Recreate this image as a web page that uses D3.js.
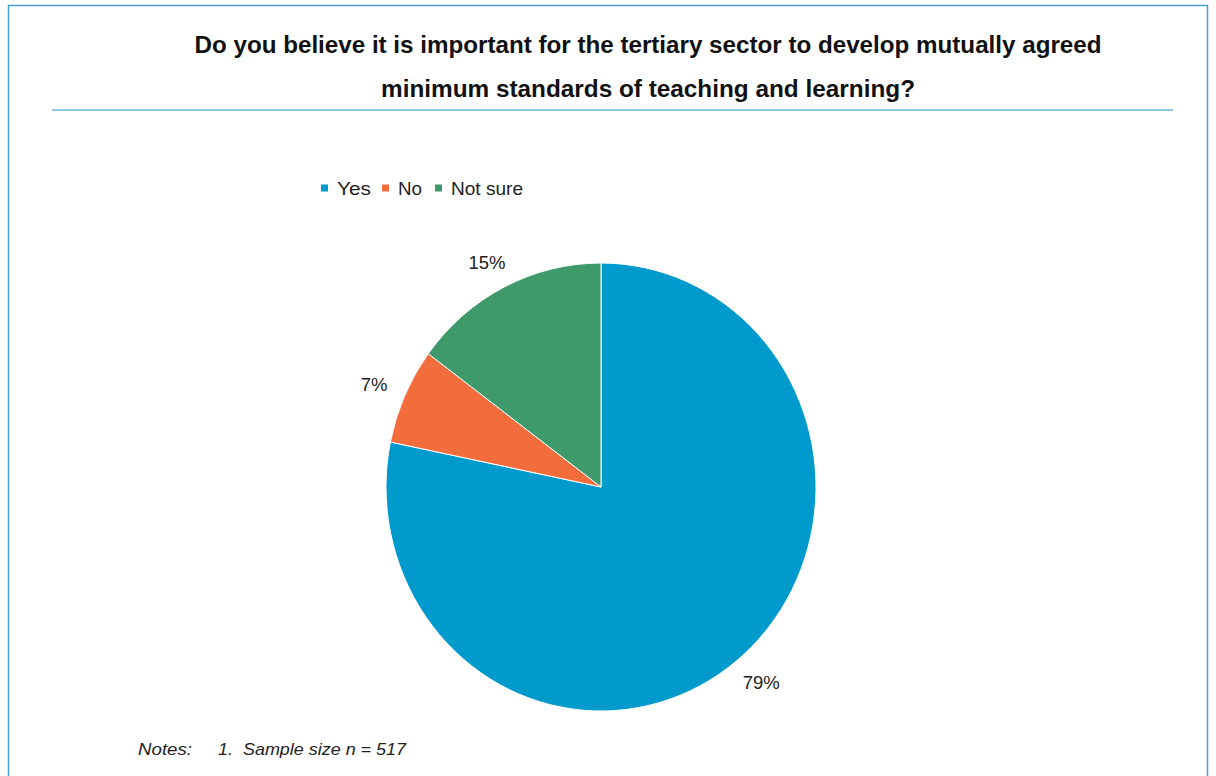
<!DOCTYPE html>
<html><head><meta charset="utf-8">
<script src="https://cdn.jsdelivr.net/npm/d3@7"></script>
<style>body{margin:0;background:#fff;font-family:"Liberation Sans",Arial,sans-serif}</style>
</head><body><svg id="c" width="1216" height="776"></svg>
<script>
const categories = ["Yes", "No", "Not sure"];
const values = [79, 7, 15];
const labels = ["79%", "7%", "15%"];
const colors = ["#009BCC", "#F26C3C", "#3E9A6A"];
const titleLines = ["Do you believe it is important for the tertiary sector to develop mutually agreed",
                    "minimum standards of teaching and learning?"];

const svg = d3.select("#c");
svg.append("rect").attr("x", 8.5).attr("y", 5.5).attr("width", 1199).attr("height", 800)
  .attr("fill", "none").attr("stroke", "#4A9FD5").attr("stroke-width", 1.5);
svg.append("line").attr("x1", 52).attr("x2", 1173).attr("y1", 110).attr("y2", 110)
  .attr("stroke", "#6BB4E0").attr("stroke-width", 1.5);

svg.selectAll("text.title").data(titleLines).join("text").attr("class", "title")
  .attr("x", 648).attr("y", (d, i) => 53 + i * 44).attr("text-anchor", "middle")
  .attr("font-size", 23.5).attr("font-weight", "bold").attr("fill", "#111")
  .attr("textLength", (d, i) => i === 0 ? 907 : 534).attr("lengthAdjust", "spacingAndGlyphs")
  .text(d => d);

// legend
const legendX = [321, 382, 435];
const legendW = [34, 24, 72];
const lg = svg.selectAll("g.lg").data(categories).join("g").attr("class", "lg")
  .attr("transform", (d, i) => `translate(${legendX[i]},188)`);
lg.append("rect").attr("x", 0).attr("y", -3.5).attr("width", 7).attr("height", 7).attr("fill", (d, i) => colors[i]);
lg.append("text").attr("x", 16).attr("y", 6.5).attr("font-size", 18.5).attr("fill", "#222")
  .attr("textLength", (d, i) => legendW[i]).attr("lengthAdjust", "spacingAndGlyphs").text(d => d);

// pie
const cx = 601, cy = 487, r = 215, sy = 224 / 215;
const pie = d3.pie().sort(null).value(d => d);
const arcs = pie(values);
const arc = d3.arc().innerRadius(0).outerRadius(r);
const g = svg.append("g").attr("transform", `translate(${cx},${cy}) scale(1,${sy})`);
g.selectAll("path").data(arcs).join("path").attr("d", arc)
  .attr("fill", (d, i) => colors[i]).attr("stroke", "#fff").attr("stroke-width", 1)
  .attr("vector-effect", "non-scaling-stroke");

// outside labels: anchor on a circle, text box pushed outward along mid-angle
const labelArc = d3.arc().innerRadius(235).outerRadius(235);
const labelH = 14;
svg.selectAll("text.pl").data(arcs).join("text").attr("class", "pl")
  .attr("text-anchor", "middle").attr("font-size", 18.5).attr("fill", "#222")
  .text((d, i) => labels[i])
  .each(function(d) {
    const w = this.getComputedTextLength();
    const a = (d.startAngle + d.endAngle) / 2;
    const [px, py] = labelArc.centroid(d);
    const x = cx + px + Math.sin(a) * w / 2;
    const y = cy + py * sy - Math.cos(a) * labelH / 2;
    d3.select(this).attr("x", x).attr("y", y + 6.5);
  });

svg.append("text").attr("x", 138).attr("y", 755).attr("font-size", 17).attr("font-style", "italic")
  .attr("fill", "#222").attr("textLength", 54).attr("lengthAdjust", "spacingAndGlyphs").text("Notes:");
svg.append("text").attr("x", 218).attr("y", 755).attr("font-size", 17).attr("font-style", "italic")
  .attr("fill", "#222").attr("textLength", 188).attr("lengthAdjust", "spacingAndGlyphs")
  .attr("xml:space", "preserve").text("1.  Sample size n = 517");
</script></body></html>
